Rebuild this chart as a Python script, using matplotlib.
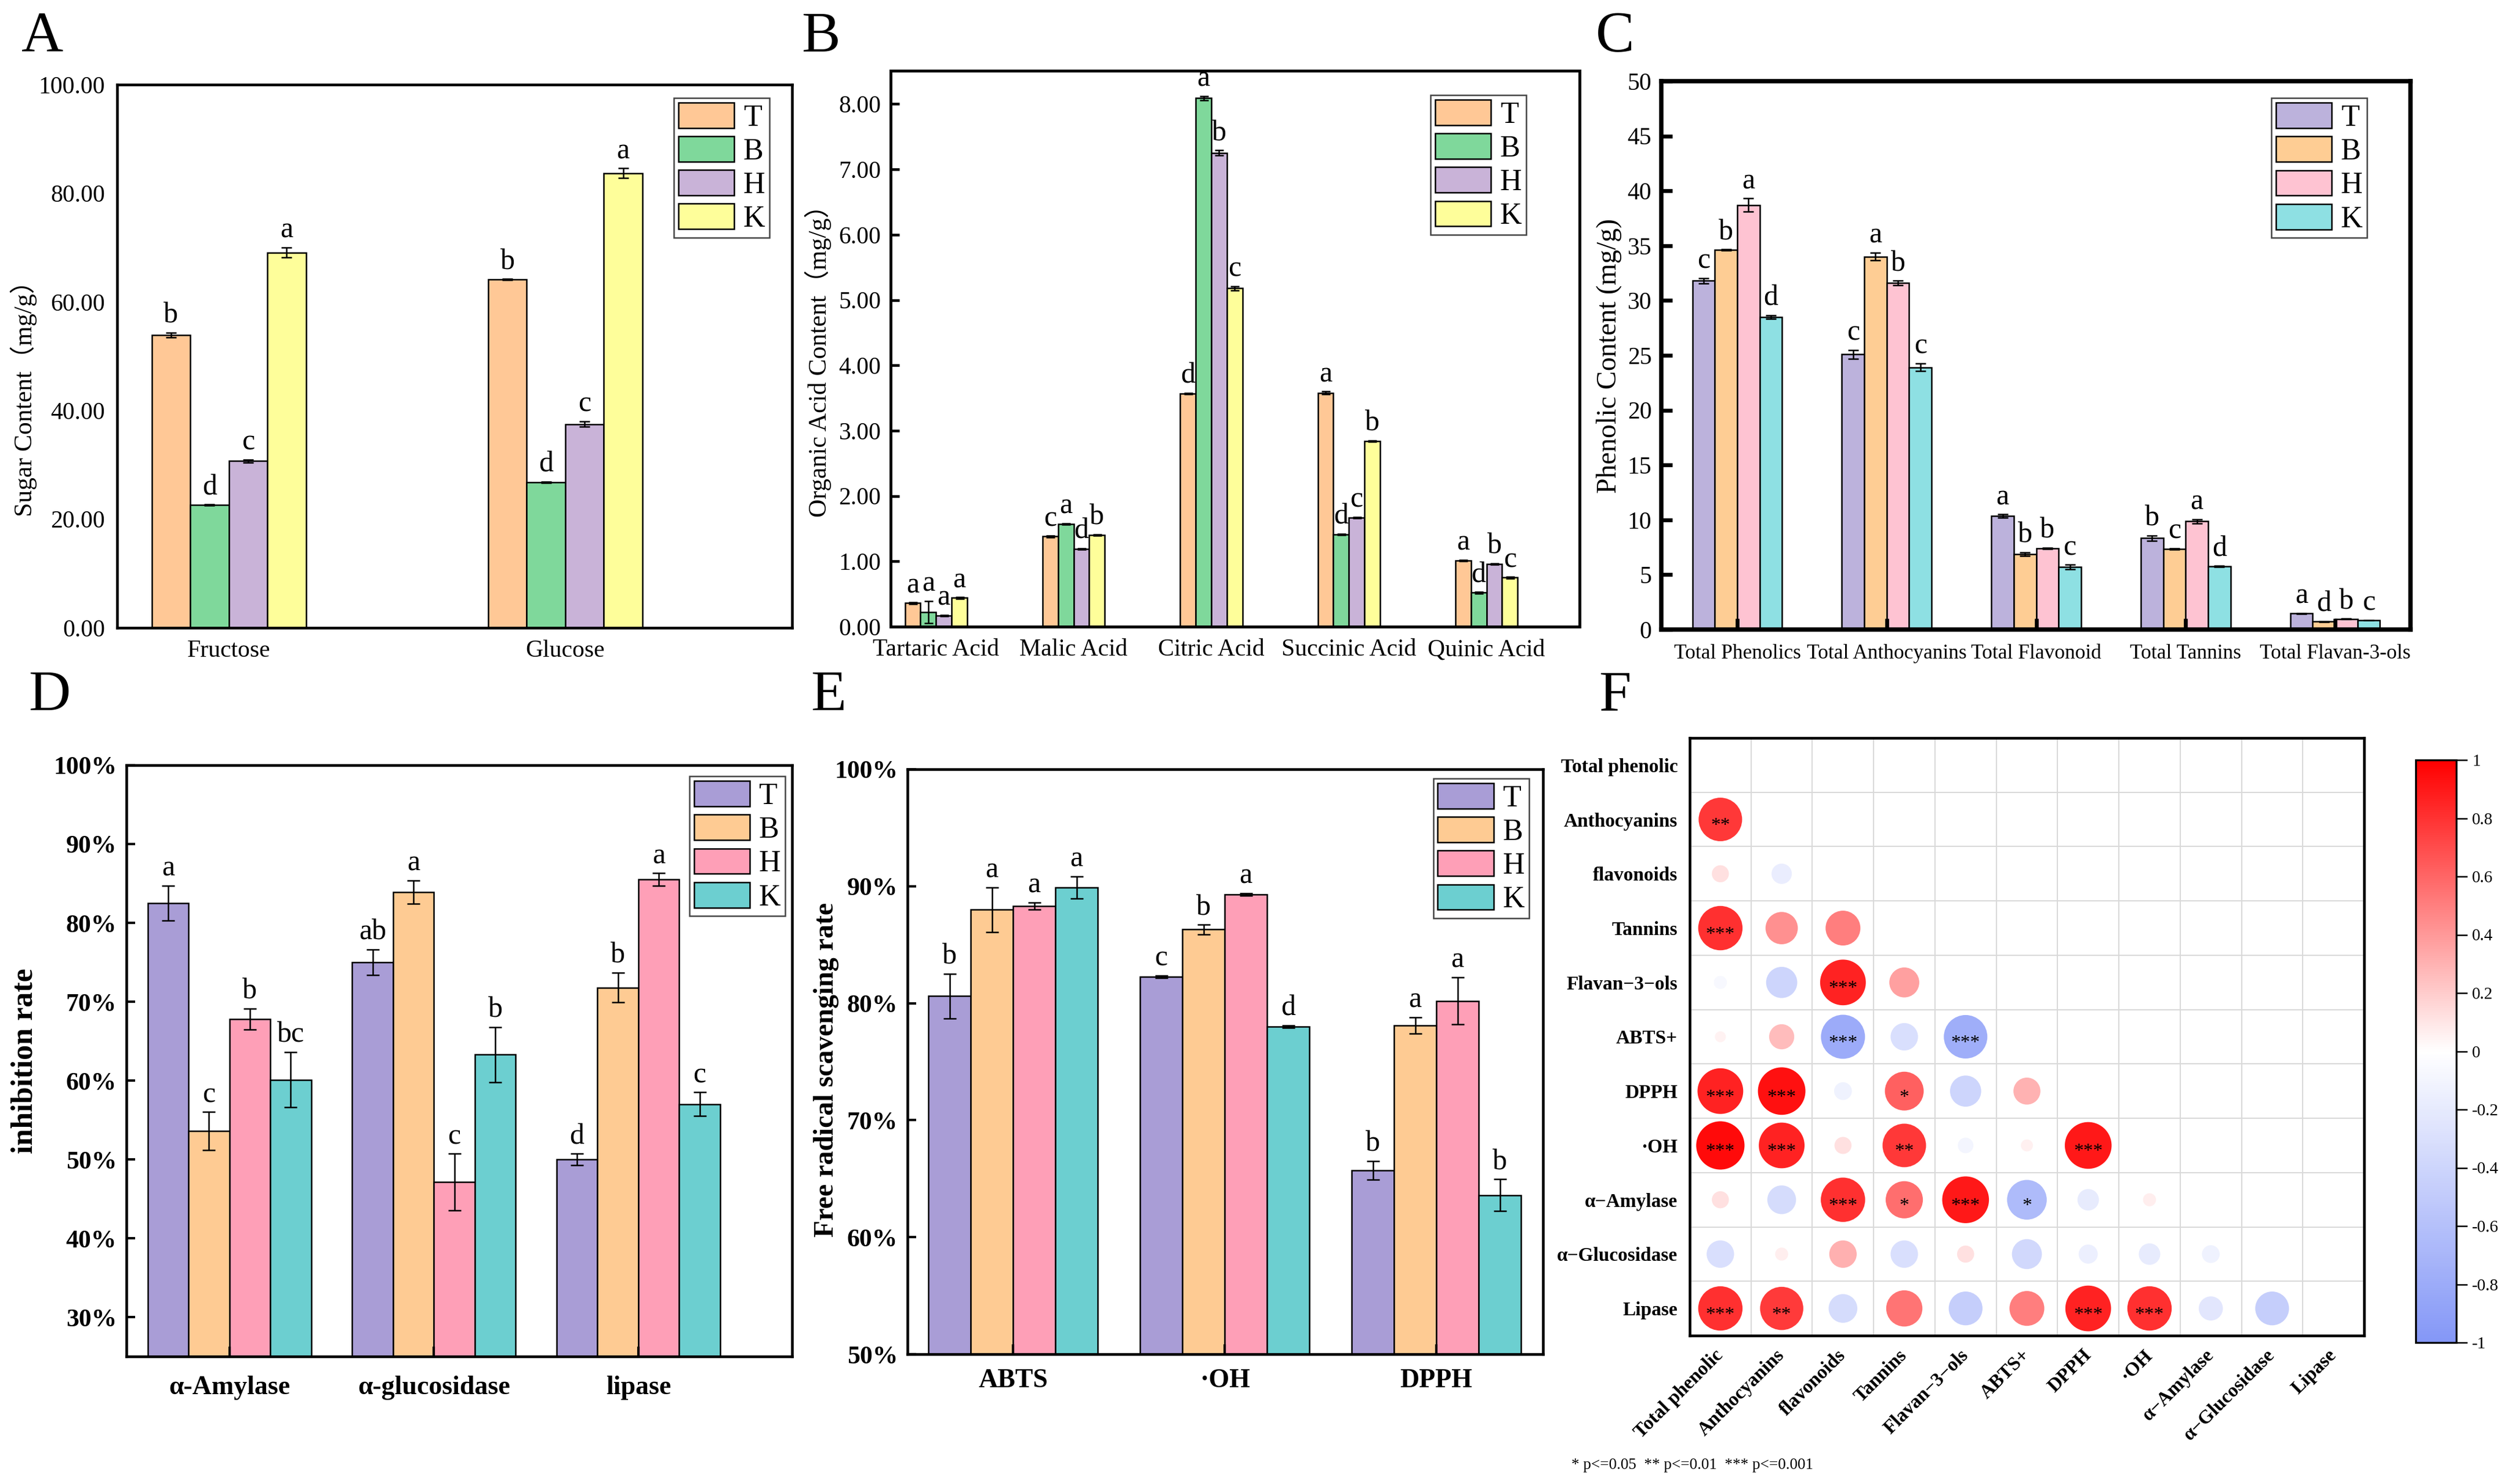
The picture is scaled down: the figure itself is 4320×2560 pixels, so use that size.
import matplotlib
matplotlib.use('Agg')
import matplotlib.pyplot as plt
import numpy as np
from matplotlib.colors import LinearSegmentedColormap, Normalize
from matplotlib.cm import ScalarMappable

plt.rcParams['font.family'] = ['Liberation Serif', 'Noto Sans CJK SC', 'DejaVu Sans']

groups = ['T', 'B', 'H', 'K']

# ---- A: sugars (rows = T, B, H, K)
sugar_cats = ['Fructose', 'Glucose']
sugar_vals = [[53.9, 64.1], [22.6, 26.8], [30.7, 37.5], [69.1, 83.7]]
sugar_err = [[0.4, 0.1], [0.1, 0.1], [0.25, 0.5], [0.9, 0.9]]
sugar_sig = [['b', 'b'], ['d', 'd'], ['c', 'c'], ['a', 'a']]

# ---- B: organic acids
acid_cats = ['Tartaric Acid', 'Malic Acid', 'Citric Acid', 'Succinic Acid', 'Quinic Acid']
acid_vals = [[0.36, 1.38, 3.57, 3.58, 1.01],
             [0.22, 1.57, 8.09, 1.41, 0.52],
             [0.17, 1.19, 7.25, 1.67, 0.96],
             [0.44, 1.40, 5.18, 2.84, 0.75]]
acid_err = [[0.01, 0.01, 0.01, 0.02, 0.01],
            [0.17, 0.01, 0.03, 0.01, 0.01],
            [0.01, 0.01, 0.04, 0.01, 0.01],
            [0.01, 0.01, 0.03, 0.01, 0.01]]
acid_sig = [['a', 'c', 'd', 'a', 'a'],
            ['a', 'a', 'a', 'd', 'd'],
            ['a', 'd', 'b', 'c', 'b'],
            ['a', 'b', 'c', 'b', 'c']]

# ---- C: phenolics
phen_cats = ['Total Phenolics', 'Total Anthocyanins', 'Total Flavonoid', 'Total Tannins', 'Total Flavan-3-ols']
phen_vals = [[31.8, 25.1, 10.35, 8.33, 1.46],
             [34.6, 34.0, 6.87, 7.36, 0.73],
             [38.7, 31.6, 7.40, 9.86, 0.97],
             [28.5, 23.9, 5.70, 5.74, 0.85]]
phen_err = [[0.25, 0.4, 0.15, 0.25, 0.02],
            [0.05, 0.35, 0.15, 0.05, 0.02],
            [0.6, 0.2, 0.05, 0.2, 0.02],
            [0.15, 0.35, 0.2, 0.05, 0.02]]
phen_sig = [['c', 'c', 'a', 'b', 'a'],
            ['b', 'a', 'b', 'c', 'd'],
            ['a', 'b', 'b', 'a', 'b'],
            ['d', 'c', 'c', 'd', 'c']]

# ---- D: enzyme inhibition (%)
enz_cats = ['α-Amylase', 'α-glucosidase', 'lipase']
enz_vals = [[82.5, 75.0, 50.0], [53.6, 83.9, 71.8], [67.8, 47.1, 85.5], [60.1, 63.3, 57.0]]
enz_err = [[2.2, 1.6, 0.7], [2.4, 1.5, 1.9], [1.35, 3.6, 0.8], [3.5, 3.5, 1.5]]
enz_sig = [['a', 'ab', 'd'], ['c', 'a', 'b'], ['b', 'c', 'a'], ['bc', 'b', 'c']]

# ---- E: radical scavenging (%)
rad_cats = ['ABTS', '·OH', 'DPPH']
rad_vals = [[80.6, 82.25, 65.7], [88.0, 86.3, 78.1], [88.3, 89.3, 80.2], [89.9, 78.0, 63.6]]
rad_err = [[1.9, 0.1, 0.8], [1.9, 0.4, 0.7], [0.3, 0.1, 2.0], [0.95, 0.1, 1.35]]
rad_sig = [['b', 'c', 'b'], ['a', 'b', 'a'], ['a', 'a', 'a'], ['a', 'd', 'b']]

# ---- F: correlation (lower triangle, row i vs columns 0..i-1)
corr_names = ['Total phenolic', 'Anthocyanins', 'flavonoids', 'Tannins', 'Flavan\u22123\u2212ols',
              'ABTS+', 'DPPH', '·OH', 'α\u2212Amylase', 'α\u2212Glucosidase', 'Lipase']
corr_rows = [[],
             [0.78],
             [0.12, -0.17],
             [0.81, 0.43, 0.50],
             [-0.07, -0.40, 0.86, 0.37],
             [0.05, 0.26, -0.80, -0.31, -0.78],
             [0.86, 0.93, -0.13, 0.62, -0.40, 0.30],
             [0.96, 0.86, 0.12, 0.78, -0.10, 0.06, 0.90],
             [0.12, -0.34, 0.81, 0.57, 0.90, -0.65, -0.19, 0.07],
             [-0.31, 0.07, 0.31, -0.31, 0.12, -0.37, -0.15, -0.19, -0.13],
             [0.81, 0.77, -0.34, 0.54, -0.47, 0.50, 0.86, 0.81, -0.24, -0.47]]
star_rows = [[],
             ['**'],
             ['', ''],
             ['***', '', ''],
             ['', '', '***', ''],
             ['', '', '***', '', '***'],
             ['***', '***', '', '*', '', ''],
             ['***', '***', '', '**', '', '', '***'],
             ['', '', '***', '*', '***', '*', '', ''],
             ['', '', '', '', '', '', '', '', ''],
             ['***', '**', '', '', '', '', '***', '***', '', '']]

colors_A = ['#ffc896', '#7fd89b', '#c9b3d8', '#fefe9a']
colors_C = ['#bcb2dc', '#fecd94', '#fec3d2', '#8ee0e3']
colors_D = ['#a99dd6', '#fecb93', '#fe9fb7', '#6ccfd0']

W, H = 4320, 2560
fig = plt.figure(figsize=(W / 300, H / 300), dpi=300)


def rect(x0, y0, x1, y1):
    return [x0 / W, 1 - y1 / H, (x1 - x0) / W, (y1 - y0) / H]


def grouped_bars(ax, cats, vals, errs, sigs, colors, width, capsize, sig_size=12):
    x = np.arange(1, len(cats) + 1)
    for k in range(4):
        xs = x + (k - 1.5) * width
        ax.bar(xs, vals[k], width, yerr=errs[k], color=colors[k], edgecolor='black',
               linewidth=0.6, capsize=capsize, label=groups[k],
               error_kw=dict(elinewidth=0.6, capthick=0.6, ecolor='black'))
        for xi, v, e, s in zip(xs, vals[k], errs[k], sigs[k]):
            ax.annotate(s, (xi, v + e), xytext=(0, 1.5), textcoords='offset points',
                        ha='center', va='bottom', fontsize=sig_size)
    ax.set_xticks(x, cats)
    return x


def legend(ax, anchor):
    leg = ax.legend(loc='upper right', bbox_to_anchor=anchor, borderaxespad=0, fontsize=12.5,
                    handlelength=1.85, handleheight=0.92, labelspacing=0.14, handletextpad=0.3,
                    borderpad=0.15, fancybox=False, edgecolor='#444444', framealpha=1)
    leg.get_frame().set_linewidth(0.6)


def spines(ax, lw):
    for s in ax.spines.values():
        s.set_linewidth(lw)


# ---------- A
axA = fig.add_axes(rect(202, 146, 1366, 1083))
grouped_bars(axA, sugar_cats, sugar_vals, sugar_err, sugar_sig, colors_A, 0.1147, 2.2)
axA.set_xlim(0.668, 2.674)
axA.set_ylim(0, 100)
axA.set_yticks(np.arange(0, 101, 20))
axA.set_yticklabels([f'{v:.2f}' for v in np.arange(0, 101, 20)])
axA.tick_params(axis='both', length=0, labelsize=10, pad=5)
spines(axA, 1.1)
legend(axA, (0.9665, 0.9755))
fig.text(41 / W, 1 - 677 / H, 'Sugar Content（mg/g）', rotation=90, ha='center', va='center', fontsize=10.5)

# ---------- B
axB = fig.add_axes(rect(1536, 122, 2724, 1081))
grouped_bars(axB, acid_cats, acid_vals, acid_err, acid_sig, colors_A, 0.113, 1.8)
axB.set_xlim(0.67, 5.676)
axB.set_ylim(0, 8.51)
axB.set_yticks(np.arange(0, 9, 1))
axB.set_yticklabels([f'{v:.2f}' for v in np.arange(0, 9, 1)])
axB.tick_params(axis='y', direction='in', length=3.6, width=1.1, labelsize=10, pad=4)
axB.tick_params(axis='x', length=0, labelsize=10, pad=5)
spines(axB, 1.2)
legend(axB, (0.9227, 0.956))
fig.text(1411 / W, 1 - 612 / H, 'Organic Acid Content（mg/g）', rotation=90, ha='center', va='center', fontsize=10.5)

# ---------- C
axC = fig.add_axes(rect(2865, 140, 4157, 1086))
grouped_bars(axC, phen_cats, phen_vals, phen_err, phen_sig, colors_C, 0.15, 2.2)
axC.set_xlim(0.492, 5.504)
axC.set_ylim(0, 50)
axC.set_yticks(np.arange(0, 51, 5))
axC.tick_params(axis='y', direction='in', length=4.5, width=1.6, labelsize=10, pad=4)
axC.tick_params(axis='x', direction='in', length=4.5, width=1.6, labelsize=8.5, pad=6)
spines(axC, 1.8)
legend(axC, (0.942, 0.969))
fig.text(2775 / W, 1 - 614 / H, 'Phenolic Content (mg/g)', rotation=90, ha='center', va='center', fontsize=11.5)

# ---------- D
axD = fig.add_axes(rect(218, 1320, 1366, 2340))
grouped_bars(axD, enz_cats, enz_vals, enz_err, enz_sig, colors_D, 0.2, 2.7)
axD.set_xlim(0.496, 3.752)
axD.set_ylim(25, 100)
axD.set_yticks(np.arange(30, 101, 10))
axD.set_yticklabels([f'{v}%' for v in range(30, 101, 10)], fontweight='bold')
axD.tick_params(axis='y', direction='in', length=3.6, width=1.0, labelsize=10.5, pad=4)
axD.tick_params(axis='x', direction='in', length=4.0, width=1.0, labelsize=11, pad=8)
for t in axD.get_xticklabels():
    t.set_fontweight('bold')
spines(axD, 1.1)
legend(axD, (0.9895, 0.981))
fig.text(43 / W, 1 - 1830 / H, 'inhibition rate', rotation=90, ha='center', va='center',
         fontsize=12.5, fontweight='bold')

# ---------- E
axE = fig.add_axes(rect(1565, 1327, 2661, 2336))
grouped_bars(axE, rad_cats, rad_vals, rad_err, rad_sig, colors_D, 0.2, 2.7)
axE.set_xlim(0.501, 3.504)
axE.set_ylim(50, 100)
axE.set_yticks(np.arange(50, 101, 10))
axE.set_yticklabels([f'{v}%' for v in range(50, 101, 10)], fontweight='bold')
axE.tick_params(axis='y', direction='in', length=3.6, width=1.0, labelsize=10.5, pad=4)
axE.tick_params(axis='x', direction='in', length=4.0, width=1.0, labelsize=11, pad=6)
for t in axE.get_xticklabels():
    t.set_fontweight('bold')
spines(axE, 1.1)
legend(axE, (0.978, 0.984))
fig.text(1425 / W, 1 - 1845 / H, 'Free radical scavenging rate', rotation=90, ha='center', va='center',
         fontsize=11.5, fontweight='bold')

# ---------- F
cmap = LinearSegmentedColormap.from_list('corr', ['#8497f7', '#ffffff', '#ff0000'])
norm = Normalize(-1, 1)
n = len(corr_names)
axF = fig.add_axes(rect(2914, 1273, 4077, 2304))
xs, ys, rs = [], [], []
for i, row in enumerate(corr_rows):
    for j, r in enumerate(row):
        xs.append(j + 0.5)
        ys.append(i + 0.5)
        rs.append(r)
rs = np.array(rs)
axF.scatter(xs, ys, s=416 * np.abs(rs), c=rs, cmap=cmap, norm=norm, edgecolors='none', zorder=3)
for i, row in enumerate(star_rows):
    for j, s in enumerate(row):
        if s:
            axF.text(j + 0.5, i + 0.62, s, ha='center', va='center', fontsize=8, zorder=4)
for k in range(1, n):
    axF.axhline(k, color='#d9d9d9', lw=0.5, zorder=1)
    axF.axvline(k, color='#d9d9d9', lw=0.5, zorder=1)
axF.set_xlim(0, n)
axF.set_ylim(n, 0)
axF.set_xticks(np.arange(n) + 0.5)
axF.set_xticklabels(corr_names, rotation=45, ha='right', va='center', rotation_mode='anchor',
                    fontweight='bold', fontsize=8)
axF.set_yticks(np.arange(n) + 0.5)
axF.set_yticklabels(corr_names, fontweight='bold', fontsize=8)
axF.tick_params(axis='both', length=0)
axF.tick_params(axis='x', pad=7)
axF.tick_params(axis='y', pad=5)
spines(axF, 1.1)

cax = fig.add_axes(rect(4166, 1311, 4236, 2316))
cb = fig.colorbar(ScalarMappable(norm=norm, cmap=cmap), cax=cax)
cb.set_ticks(np.round(np.arange(-1, 1.01, 0.2), 1))
cb.set_ticklabels(['-1', '-0.8', '-0.6', '-0.4', '-0.2', '0', '0.2', '0.4', '0.6', '0.8', '1'])
cb.ax.tick_params(length=4.5, width=0.6, labelsize=7, pad=2)
cb.outline.set_linewidth(0.8)

fig.text(2710 / W, 1 - 2527 / H, '* p<=0.05  ** p<=0.01  *** p<=0.001', ha='left', va='center', fontsize=6.5)

# ---------- panel letters
for lab, x, y in [('A', 37, 88), ('B', 1382, 88), ('C', 2752, 88),
                  ('D', 49, 1225), ('E', 1398, 1225), ('F', 2757, 1225)]:
    fig.text(x / W, 1 - y / H, lab, ha='left', va='baseline', fontsize=24)

fig.savefig('out.png', dpi=300)
